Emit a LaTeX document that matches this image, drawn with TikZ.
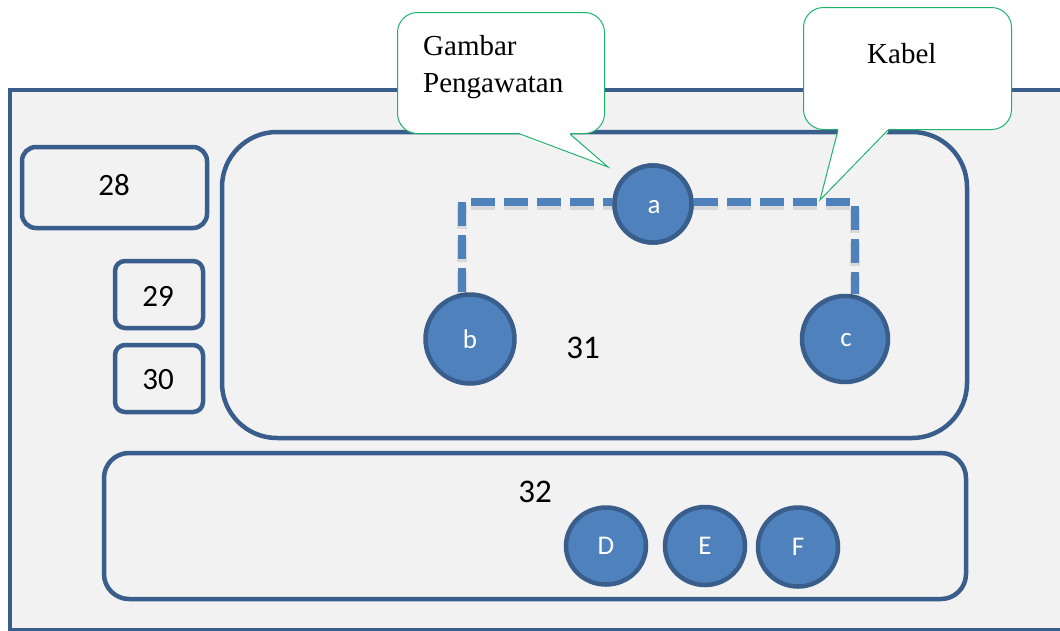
\documentclass[tikz,border=0pt]{standalone}
\usepackage{fontspec}
\setmainfont{Liberation Serif}
\newfontfamily\calib{Carlito}
\usetikzlibrary{shapes.geometric}
\definecolor{navy}{HTML}{3A5E8C}
\definecolor{steel}{HTML}{4F81BD}
\definecolor{panel}{HTML}{F2F2F2}
\definecolor{callgreen}{HTML}{1DB36A}
\tikzset{
  framebox/.style={draw=navy, line width=4.5pt, fill=panel},
  slot/.style={draw=navy, line width=4.5pt, rectangle, inner sep=0pt},
  numtext/.style={font=\calib\fontsize{31}{31}\selectfont, text=black, inner sep=0pt},
  bignum/.style={font=\calib\fontsize{33}{33}\selectfont, text=black, inner sep=0pt},
  term/.style={ellipse, draw=navy, line width=4.5pt, fill=steel, inner sep=0pt,
    text=white, font=\calib\fontsize{27}{27}\selectfont},
  wire/.style={draw=steel, line width=7.5pt, dash pattern=on 24pt off 9pt},
  wireshadow/.style={draw=black, opacity=0.10, line width=10pt, dash pattern=on 24pt off 9pt},
  callbox/.style={rectangle, draw=callgreen, line width=1pt, fill=white, rounded corners=20pt, inner sep=0pt},
  calltext/.style={font=\fontsize{29}{29}\selectfont, inner sep=0pt, anchor=base west},
}
\begin{document}
\begin{tikzpicture}[x=1pt,y=-1pt]
\useasboundingbox (0,0) rectangle (1060,630);
\clip (0,0) rectangle (1060,630);
\fill[white] (0,0) rectangle (1060,630);

% outer panel
\draw[framebox] (10,90) rectangle (1080,630.5);

% left slots
\node[slot, rounded corners=14pt, minimum width=185pt, minimum height=81pt] (s28) at (114.5,187.5) {};
\node[numtext] (t28) at (114,185) {28};
\node[slot, rounded corners=10pt, minimum width=88pt, minimum height=67pt] (s29) at (159,294.5) {};
\node[numtext] (t29) at (158,296) {29};
\node[slot, rounded corners=10pt, minimum width=88pt, minimum height=67pt] (s30) at (159,378.5) {};
\node[numtext] (t30) at (158,380) {30};

% wiring panel
\node[slot, rounded corners=55pt, minimum width=745pt, minimum height=306pt] (s31) at (594.5,285) {};
\node[bignum] (t31) at (583,348) {31};

% lower panel
\node[slot, rounded corners=25pt, minimum width=862pt, minimum height=146pt] (s32) at (535,526) {};
\node[bignum] (t32) at (535,492) {32};

% terminals
\node[term, minimum width=77pt, minimum height=77pt] (a) at (653,204) {};
\node[term, minimum width=89pt, minimum height=89pt] (b) at (470,339) {};
\node[term, minimum width=86pt, minimum height=86pt] (c) at (845,339) {};

% cable between terminals (soft shadow first)
\draw[wireshadow] ([xshift=-8pt,yshift=-3pt]b.north) |- ([yshift=-1pt]a.west);
\draw[wireshadow] ([yshift=-1pt]a.east) -| ([xshift=10pt,yshift=-3pt]c.north);
\draw[wire] ([xshift=-8pt]b.north) |- ([yshift=2pt]a.west);
\draw[wire] ([yshift=2pt]a.east) -| ([xshift=10pt]c.north);

% terminals on top of cable, with labels
\node[term, minimum width=77pt, minimum height=77pt] at (a) {};
\node[text=white, font=\calib\fontsize{27}{27}\selectfont] (la) at (654,207) {a};
\node[text=white, font=\calib\fontsize{27}{27}\selectfont] (lb) at (470,339) {b};
\node[text=white, font=\calib\fontsize{27}{27}\selectfont] (lc) at (846,340) {c};

\node[term, minimum width=80pt, minimum height=77pt] (d) at (606,546) {D};
\node[term, minimum width=80pt, minimum height=78pt] (e) at (705,546) {E};
\node[term, minimum width=80pt, minimum height=79pt] (f) at (798,547) {F};

% callout: wiring drawing
\node[callbox, minimum width=207pt, minimum height=121pt, anchor=north west] (gbox) at (397,12) {};
\fill[white] ([xshift=123pt,yshift=-2pt]gbox.south west) -- (608,167) -- ([xshift=173pt,yshift=-2pt]gbox.south west) -- ([xshift=173pt,yshift=3pt]gbox.south west) -- ([xshift=123pt,yshift=3pt]gbox.south west) -- cycle;
\draw[callgreen, line width=1pt, line join=miter] ([xshift=123pt]gbox.south west) -- (608,167) coordinate (gtip) -- ([xshift=173pt]gbox.south west);
\node[calltext] (g1) at (423,55) {Gambar};
\node[calltext] (g2) at (423,92) {Pengawatan};

% callout: cable
\node[callbox, minimum width=208pt, minimum height=122pt, anchor=north west] (kbox) at (803,7) {};
\fill[white] ([xshift=35pt,yshift=-2pt]kbox.south west) -- (820,200) -- ([xshift=85pt,yshift=-2pt]kbox.south west) -- ([xshift=85pt,yshift=3pt]kbox.south west) -- ([xshift=35pt,yshift=3pt]kbox.south west) -- cycle;
\draw[callgreen, line width=1pt, line join=miter] ([xshift=35pt]kbox.south west) -- (820,200) coordinate (ktip) -- ([xshift=85pt]kbox.south west);
\node[calltext] (k1) at (867,63) {Kabel};
\end{tikzpicture}
\end{document}
